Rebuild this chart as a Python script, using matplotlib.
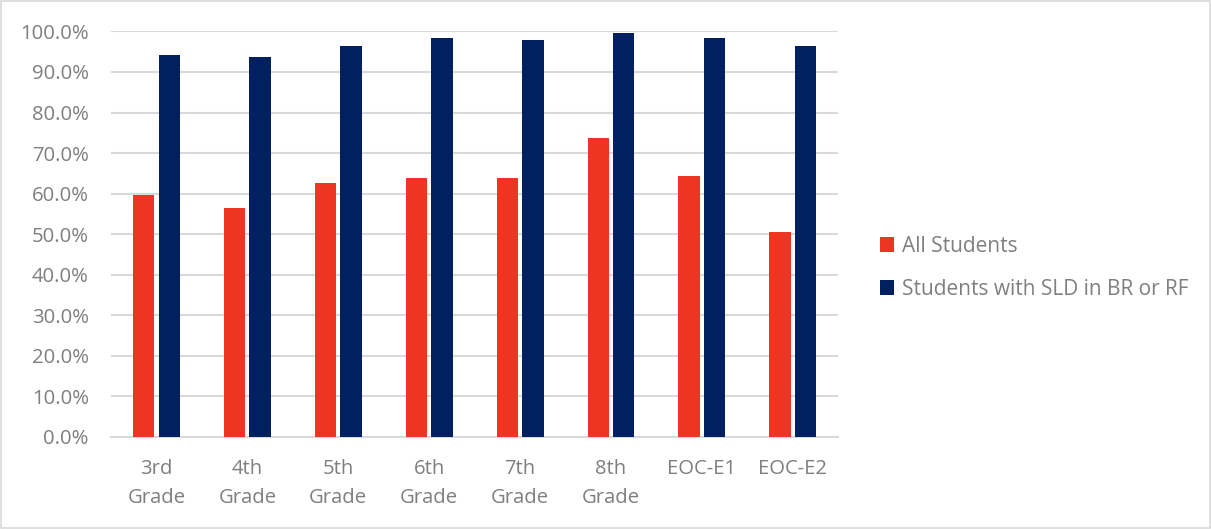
import matplotlib
matplotlib.use("Agg")
import matplotlib.pyplot as plt
import numpy as np
from matplotlib.ticker import PercentFormatter, MultipleLocator
from matplotlib.patches import Rectangle

categories = ["3rd\nGrade", "4th\nGrade", "5th\nGrade", "6th\nGrade",
              "7th\nGrade", "8th\nGrade", "EOC-E1", "EOC-E2"]
all_students = [59.6, 56.4, 62.7, 63.8, 63.8, 73.8, 64.3, 50.6]
sld_students = [94.3, 93.8, 96.4, 98.5, 98.0, 99.6, 98.5, 96.4]
series_names = ["All Students", "Students with SLD in BR or RF"]

RED = "#EE3524"
NAVY = "#002060"
TEXT = "#7F7F7F"
GRID = "#D9D9D9"

plt.rcParams["font.family"] = ["Open Sans", "DejaVu Sans"]

fig = plt.figure(figsize=(12.11, 5.29), dpi=100)
ax = fig.add_axes([0.0917, 0.1745, 0.6005, 0.766])

x = np.arange(len(categories))
w = 0.235
gap = 0.045
ax.bar(x - (w + gap) / 2, all_students, width=w, color=RED, label=series_names[0], zorder=3)
ax.bar(x + (w + gap) / 2, sld_students, width=w, color=NAVY, label=series_names[1], zorder=3)

ax.set_xlim(-0.5, len(categories) - 0.5)
ax.set_ylim(0, 100)
ax.yaxis.set_major_locator(MultipleLocator(10))
ax.yaxis.set_major_formatter(PercentFormatter(decimals=1))
ax.grid(axis="y", color=GRID, linewidth=1.5, zorder=0)
for s in ["left", "right", "top"]:
    ax.spines[s].set_visible(False)
ax.spines["bottom"].set_color(GRID)
ax.spines["bottom"].set_linewidth(1.5)
ax.tick_params(axis="both", length=0, labelcolor=TEXT, labelsize=14.6)
ax.tick_params(axis="y", pad=16)
ax.tick_params(axis="x", pad=16)
ax.set_xticks(x)
ax.set_xticklabels(categories, linespacing=1.6)

fig.legend(loc="center left", bbox_to_anchor=(0.711, 0.494), frameon=False,
           fontsize=15, labelcolor=TEXT, handlelength=0.7, handleheight=0.7,
           handletextpad=0.35, labelspacing=1.05)

fig.patches.append(Rectangle((0.001, 0.002), 0.998, 0.996, transform=fig.transFigure,
                             fill=False, edgecolor=GRID, linewidth=1.2))

fig.savefig("out.png", dpi=100, facecolor="white")
